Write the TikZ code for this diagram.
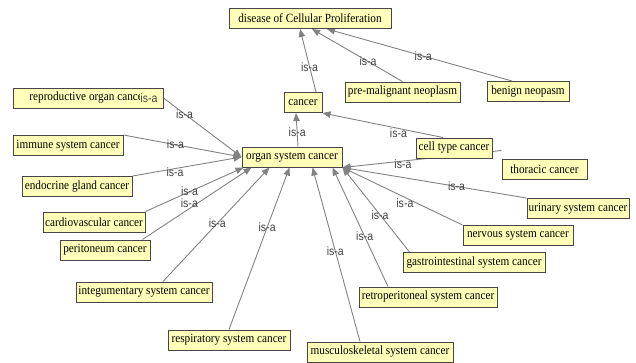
\documentclass[tikz,border=0pt]{standalone}
\usepackage{fontspec}
\setmainfont{Liberation Serif}
\setsansfont{Liberation Sans}
\newfontfamily\boxfont[FakeStretch=0.9]{Liberation Serif}
\newfontfamily\isafont[FakeStretch=0.88]{Liberation Sans}
\usetikzlibrary{arrows.meta}
\pgfdeclarelayer{edges}
\pgfsetlayers{edges,main}
\definecolor{boxfill}{RGB}{255,255,185}
\definecolor{boxline}{RGB}{70,70,70}
\definecolor{edgegray}{RGB}{130,130,130}
\tikzset{
  centered/.style = { align=center, anchor=center },
       box/.style = { centered, draw=boxline, fill=boxfill, line width=1pt,
                      font=\boxfont\fontsize{12.5}{13}\selectfont,
                      minimum height=20pt, inner xsep=1pt, inner ysep=0pt },
     arrow/.style = { line width=0.9pt, color=edgegray, -{Triangle[length=8pt,width=6.5pt]} },
       isa/.style = { font=\isafont\fontsize{12}{13}\selectfont, text=black!75, inner sep=0pt }
}

\begin{document}
\begin{tikzpicture}[x=1pt,y=-1pt]
  \useasboundingbox (0,0) rectangle (636,362);

  % top of the hierarchy
  \node[box, minimum width=162] (dis)    at (310,18.5) {disease of Cellular Proliferation};
  \node[box, minimum width=115] (premal) at (402.5,92) {pre-malignant neoplasm};
  \node[box, minimum width=82]  (benign) at (528,91.5) {benign neopasm};
  \node[box, minimum width=38]  (cancer) at (303,102.5) {cancer};
  \node[box, minimum width=100] (organ)  at (292,157) {organ system cancer};
  \node[box, minimum width=76]  (celltype) at (454,148) {cell type cancer};
  \node[box, minimum width=85]  (thoracic) at (544.5,169) {thoracic cancer};

  % organ system children
  \node[box, minimum width=150] (repro)  at (88,98) {reproductive organ cancer};
  \node[box, minimum width=110] (immune) at (68,145.5) {immune system cancer};
  \node[box, minimum width=110] (endo)   at (77,186.5) {endocrine gland cancer};
  \node[box, minimum width=102] (cardio) at (94,222) {cardiovascular cancer};
  \node[box, minimum width=90]  (perit)  at (105,250) {peritoneum cancer};
  \node[box, minimum width=136] (integ)  at (144,292) {integumentary system cancer};
  \node[box, minimum width=122] (resp)   at (229,340) {respiratory system cancer};
  \node[box, minimum width=146] (musc)   at (380,352) {musculoskeletal system cancer};
  \node[box, minimum width=138] (retro)  at (428,297) {retroperitoneal system cancer};
  \node[box, minimum width=142] (gastro) at (474,262.5) {gastrointestinal system cancer};
  \node[box, minimum width=110] (nerv)   at (518,235.5) {nervous system cancer};
  \node[box, minimum width=102] (urin)   at (578,208.5) {urinary system cancer};

  \node[isa, fill=boxfill] (reprolbl) at (149,98) {is-a};

  \begin{pgfonlayer}{edges}
    \draw [arrow] ([xshift=13]cancer.north) -- ([xshift=-10]dis.south) node[isa, pos=0.40] {is-a};
    \draw [arrow] (premal.north) -- ([xshift=2]dis.south) node[isa, pos=0.38] {is-a};
    \draw [arrow] ([xshift=-16]benign.north) -- ([xshift=17]dis.south) node[isa, pos=0.48] {is-a};
    \draw [arrow] ([xshift=6]organ.north) -- ([xshift=-7]cancer.south) node[isa, pos=0.42] {is-a};
    \draw [arrow] ([xshift=-11]celltype.north) -- (cancer.south east) node[isa, pos=0.37, yshift=-5] {is-a};
    \draw [arrow] ([yshift=8]thoracic.north west) -- (organ.south east) node[isa, pos=0.62, yshift=-3] {is-a};

    \draw [arrow] (repro.east) -- (organ.west) node[isa, pos=0.27] {is-a};
    \draw [arrow] (immune.north east) -- (organ.west) node[isa, pos=0.44] {is-a};
    \draw [arrow] (endo.north east) -- (organ.west) node[isa, pos=0.39, yshift=-4] {is-a};
    \draw [arrow] (cardio.north east) -- ([xshift=2]organ.south west) node[isa, pos=0.45] {is-a};
    \draw [arrow] ([xshift=-8]perit.north east) -- ([xshift=10]organ.south west) node[isa, pos=0.43, yshift=5] {is-a};
    \draw [arrow] ([xshift=19]integ.north) -- ([xshift=28]organ.south west) node[isa, pos=0.51] {is-a};
    \draw [arrow] (resp.north) -- ([xshift=48]organ.south west) node[isa, pos=0.63] {is-a};
    \draw [arrow] ([xshift=-20]musc.north) -- ([xshift=-30]organ.south east) node[isa, pos=0.52] {is-a};
    \draw [arrow] ([xshift=-40]retro.north) -- ([xshift=-10]organ.south east) node[isa, pos=0.42] {is-a};
    \draw [arrow] ([xshift=7]gastro.north west) -- (organ.south east) node[isa, pos=0.44] {is-a};
    \draw [arrow] (nerv.north west) -- (organ.south east) node[isa, pos=0.48, yshift=-6] {is-a};
    \draw [arrow] (urin.north west) -- (organ.south east) node[isa, pos=0.38] {is-a};
  \end{pgfonlayer}

\end{tikzpicture}
\end{document}
